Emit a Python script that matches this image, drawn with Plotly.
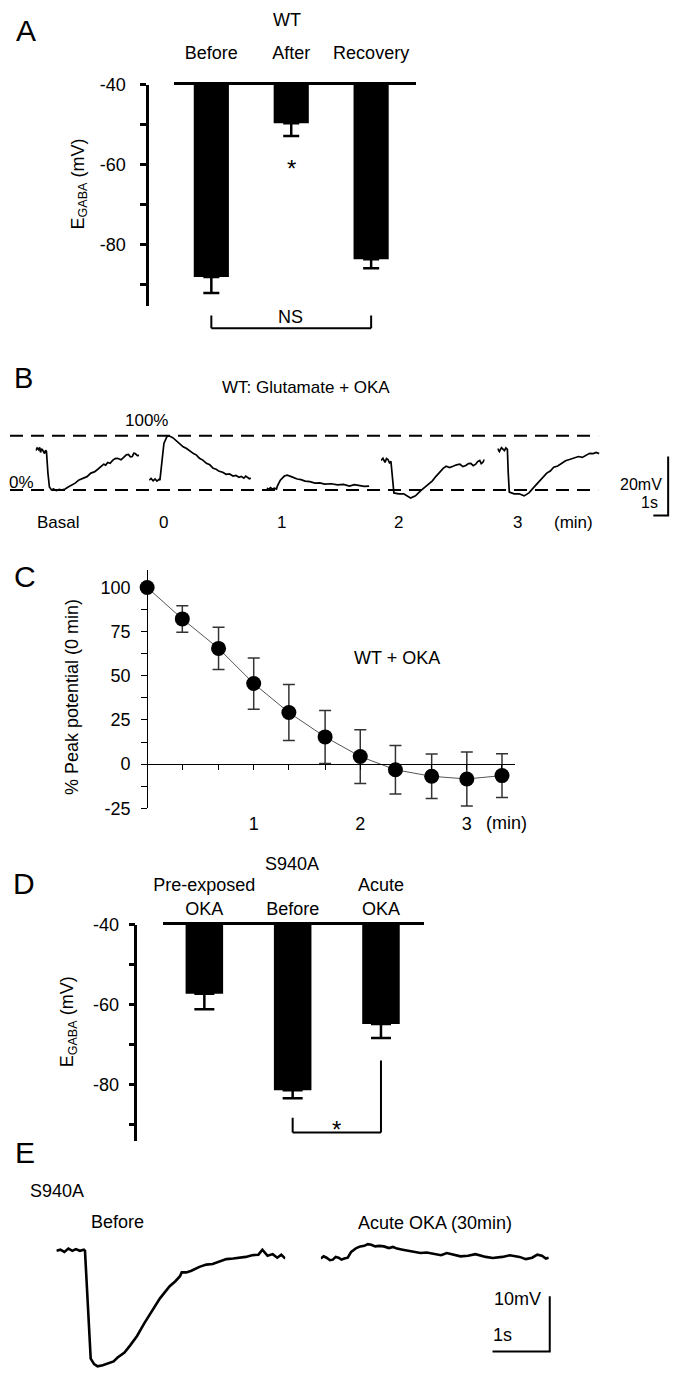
import plotly.graph_objects as go

# ---- data ----
A_categories = ["Before", "After", "Recovery"]
A_egaba = [-88.1, -49.6, -83.7]
A_sem = [4.0, 3.2, 2.2]
A_ref = -40
A_yticks = [-40, -60, -80]
A_yminor = [-50, -70, -90]

B_sweep_labels = ["Basal", "0", "1", "2", "3"]
B_basal_t = [0, 0.1, 0.2, 0.27, 0.33, 0.4, 0.47, 0.53, 0.6, 0.67, 0.73, 0.83, 0.93, 1.07, 1.2, 1.4,
             1.6, 1.73, 2.0, 2.17, 2.33, 2.5, 2.67, 2.93, 3.2, 3.47, 3.73, 3.97, 4.2, 4.4, 4.6, 4.73,
             4.87, 5.03, 5.2, 5.37, 5.53, 5.77, 6.0, 6.13, 6.27, 6.4, 6.53, 6.63, 6.73, 6.87, 7.0]
B_basal_mv = [13.3, 14.2, 13.6, 14.4, 12.7, 13.9, 13.5, 12.6, 12.3, 13.4, 13.0, 5.7, 1.0, 0.0, 0.3, -0.2,
              0.2, 0.0, 0.3, 0.9, 1.3, 1.9, 2.3, 3.4, 4.0, 4.5, 5.7, 6.1, 7.0, 7.9, 8.7, 8.4,
              9.3, 9.0, 10.0, 10.6, 10.7, 10.2, 11.3, 11.9, 12.0, 11.2, 11.3, 12.4, 12.3, 11.6, 11.7]
B_0_t = [0, 0.13, 0.27, 0.4, 0.53, 0.67, 0.73, 0.8, 0.87, 1.0, 1.2, 1.33, 1.6, 1.83, 2.07, 2.3, 2.53,
         2.77, 3.0, 3.2, 3.4, 3.63, 3.87, 4.1, 4.33, 4.53, 4.73, 4.97, 5.2, 5.43, 5.67, 5.87, 6.07,
         6.23, 6.4, 6.53, 6.67, 6.77, 6.87]
B_0_mv = [3.3, 3.9, 3.1, 3.7, 3.0, 3.6, 3.3, 6.0, 10.7, 15.7, 18.0, 18.3, 17.7, 16.6, 15.7, 14.6, 14.0,
          13.0, 12.3, 11.8, 10.7, 10.1, 9.0, 8.5, 7.3, 7.0, 6.3, 6.0, 5.3, 5.4, 4.7, 4.9, 4.3,
          4.6, 4.0, 4.7, 4.3, 3.8, 4.0]
B_1_t = [0, 0.13, 0.27, 0.4, 0.53, 0.67, 0.73, 0.93, 1.2, 1.4, 1.67, 2.07, 2.33, 2.6, 2.93, 3.27, 3.6,
         3.93, 4.37, 4.8, 5.2, 5.6, 5.93, 6.27, 6.6, 6.93]
B_1_mv = [0.7, 0.2, 0.8, 0.3, 0.6, 0.3, 1.3, 3.3, 4.7, 5.0, 4.5, 3.7, 3.5, 3.0, 2.8, 2.3, 2.4,
          2.0, 2.1, 1.7, 1.9, 1.3, 1.8, 1.5, 1.2, 1.3]
B_2_t = [0, 0.13, 0.27, 0.37, 0.47, 0.57, 0.67, 0.8, 0.87, 1.2, 1.53, 2.0, 2.33, 2.67, 2.93, 3.2, 3.47,
         3.73, 3.97, 4.2, 4.4, 4.63, 4.87, 5.1, 5.33, 5.53, 5.73, 5.9, 6.07, 6.23, 6.4, 6.53, 6.67,
         6.77, 6.87, 7.0]
B_2_mv = [10.0, 10.7, 9.3, 10.6, 10.3, 9.2, 9.7, 2.3, -1.0, -1.3, -1.3, -2.7, -2.0, -0.3, 0.8, 2.0, 3.1,
          4.7, 6.0, 7.3, 8.0, 7.6, 8.0, 8.5, 8.7, 7.9, 8.3, 8.9, 9.0, 8.2, 8.7, 9.6, 10.0,
          8.9, 9.3, 10.3]
B_3_t = [0, 0.13, 0.27, 0.37, 0.47, 0.57, 0.67, 0.73, 0.8, 1.13, 1.47, 1.8, 2.13, 2.53, 2.77, 3.0, 3.33,
         3.57, 3.8, 4.07, 4.33, 4.6, 4.87, 5.17, 5.47, 5.73, 6.0, 6.23, 6.47, 6.67, 6.87]
B_3_mv = [14.0, 13.0, 14.3, 13.6, 13.3, 14.2, 13.7, 5.7, -0.7, -1.3, -1.3, -2.0, -1.0, 1.3, 2.6, 4.0, 5.7,
          6.4, 7.7, 8.1, 9.0, 9.9, 10.3, 10.9, 11.3, 11.0, 11.7, 12.4, 12.3, 12.7, 12.3]
B_peak_mv = 18.3  # 100% level, 0% level is 0 mV

C_time_min = [0, 0.33, 0.67, 1.0, 1.33, 1.67, 2.0, 2.33, 2.67, 3.0, 3.33]
C_peak_pct = [100, 82.2, 65.5, 45.6, 29.2, 15.4, 4.3, -3.2, -6.9, -8.4, -6.5]
C_sem = [0, 7.5, 12, 14.5, 15.8, 15, 15.2, 13.7, 12.6, 15.3, 12.4]
C_xticks = [0.33, 0.67, 1.0, 1.33, 1.67, 2.0, 2.33, 2.67, 3.0, 3.33]
C_xticktext = ["", "", "1", "", "", "2", "", "", "3", ""]
C_yticks = [-25, 0, 25, 50, 75, 100]
C_yminor = [-12.5, 12.5, 37.5, 62.5, 87.5]

D_categories = ["Pre-exposed<br>OKA", "Before", "Acute<br>OKA"]
D_egaba = [-57.3, -81.5, -64.9]
D_sem = [3.9, 2.0, 3.5]

E_before_t = [0, 0.07, 0.14, 0.21, 0.28, 0.34, 0.41, 0.48, 0.5, 0.53, 0.57, 0.6, 0.66, 0.72, 0.81, 0.9,
              1.0, 1.07, 1.19, 1.29, 1.41, 1.53, 1.67, 1.81, 1.98, 2.08, 2.16, 2.19, 2.27, 2.36, 2.5,
              2.62, 2.73, 2.84, 2.97, 3.09, 3.2, 3.31, 3.42, 3.53, 3.6, 3.69, 3.78, 3.86, 3.93, 4.0]
E_before_mv = [0, 0.2, -0.2, 0.4, 0, 0.3, 0, 0.2, 0, -5.5, -14.5, -19.5, -20.5, -20.9, -20.7, -20.4,
               -20.0, -19.3, -18.4, -17.1, -15.4, -13.2, -10.9, -8.6, -6.4, -5.5, -4.6, -3.9, -3.9, -3.6,
               -2.9, -2.5, -2.4, -2.0, -1.5, -1.4, -1.3, -1.1, -0.8, -0.7, 0.2, -0.9, -0.6, -1.25, -0.7,
               -1.4]
E_acute_t = [0, 0.05, 0.1, 0.16, 0.21, 0.26, 0.31, 0.36, 0.41, 0.47, 0.53, 0.62, 0.69, 0.76, 0.82, 0.88,
             0.95, 1.02, 1.1, 1.19, 1.26, 1.33, 1.43, 1.53, 1.63, 1.74, 1.85, 1.97, 2.1, 2.2, 2.31, 2.44,
             2.57, 2.7, 2.88, 3.0, 3.17, 3.3, 3.47, 3.58, 3.69, 3.78, 3.86, 3.93, 3.98]
E_acute_mv = [-1.4, -1.0, -1.25, -1.7, -1.6, -1.1, -1.25, -1.6, -1.4, -1.25, -0.2, 0.5, 0.8, 0.9, 1.2, 1.1,
              0.8, 0.9, 0.8, 0.5, 0.7, 0.4, 0.2, 0, -0.1, -0.4, -0.3, -0.5, -0.8, -0.4, -0.7, -1.0,
              -0.9, -0.6, -1.1, -1.3, -1.1, -0.8, -1.1, -1.5, -1.25, -0.7, -0.9, -1.4, -1.25]

W, H = 680, 1383
FONT = "Liberation Sans, Arial, sans-serif"


def px(x):
    return x / W


def py(y):
    return 1 - y / H


def text(s, x, y, size=18, **kw):
    d = dict(text=s, x=px(x), y=py(y), xref="paper", yref="paper", showarrow=False,
             xanchor="center", yanchor="middle", font=dict(size=size, color="black"))
    d.update(kw)
    return d


def seg(x0, y0, x1, y1, xref="paper", yref="paper", width=2, dash="solid"):
    return dict(type="line", x0=x0, y0=y0, x1=x1, y1=y1, xref=xref, yref=yref,
                line=dict(color="black", width=width, dash=dash))


def scalebar(x_left, x_right, y_low, y_high, yref):
    # L-shaped scale bar: horizontal at y_low, vertical at x_right
    path = f"M{px(x_left)},{y_low} L{px(x_right)},{y_low} L{px(x_right)},{y_high}"
    return dict(type="path", path=path, xref="paper", yref=yref,
                line=dict(color="black", width=2))


fig = go.Figure()
annotations = []
shapes = []

# ---- A: WT E_GABA bars ----
fig.add_trace(go.Bar(
    x=A_categories, y=[v - A_ref for v in A_egaba], base=A_ref, width=0.44,
    marker=dict(color="black", line=dict(width=0)),
    error_y=dict(type="data", symmetric=False, array=[0] * 3, arrayminus=A_sem,
                 color="black", thickness=2.5, width=8),
    xaxis="x", yaxis="y"))

# ---- B: sweeps ----
B_sweeps = [(B_basal_t, B_basal_mv), (B_0_t, B_0_mv), (B_1_t, B_1_mv), (B_2_t, B_2_mv), (B_3_t, B_3_mv)]
for i, (t, mv) in enumerate(B_sweeps):
    fig.add_trace(go.Scatter(x=t, y=mv, mode="lines", line=dict(color="black", width=1.7),
                             xaxis=f"x{i + 2}", yaxis=f"y{i + 2}"))

# ---- C: time course ----
fig.add_trace(go.Scatter(
    x=C_time_min, y=C_peak_pct, mode="lines+markers", cliponaxis=False,
    line=dict(color="#555555", width=1),
    marker=dict(color="black", size=15),
    error_y=dict(type="data", array=C_sem, color="#333333", thickness=1.5, width=6),
    xaxis="x7", yaxis="y7"))

# ---- D: S940A bars ----
fig.add_trace(go.Bar(
    x=D_categories, y=[v - A_ref for v in D_egaba], base=A_ref, width=0.425,
    marker=dict(color="black", line=dict(width=0)),
    error_y=dict(type="data", symmetric=False, array=[0] * 3, arrayminus=D_sem,
                 color="black", thickness=2.5, width=10),
    xaxis="x8", yaxis="y8"))

# ---- E: traces ----
fig.add_trace(go.Scatter(x=E_before_t, y=E_before_mv, mode="lines",
                         line=dict(color="black", width=2.6), xaxis="x9", yaxis="y9"))
fig.add_trace(go.Scatter(x=E_acute_t, y=E_acute_mv, mode="lines",
                         line=dict(color="black", width=2.6), xaxis="x10", yaxis="y10"))

layout = dict(
    width=W, height=H, margin=dict(l=0, r=0, t=0, b=0),
    paper_bgcolor="white", plot_bgcolor="rgba(0,0,0,0)", showlegend=False,
    font=dict(family=FONT, size=18, color="black"),
)

bar_y_common = dict(anchor="free", showline=True, linecolor="black", linewidth=2.5,
                    ticks="outside", ticklen=6, tickwidth=2.5, tickcolor="black",
                    tickmode="array", tickvals=A_yticks, ticktext=[str(v) for v in A_yticks],
                    minor=dict(tickmode="array", tickvals=A_yminor, ticks="outside",
                               ticklen=6, tickwidth=2.5, tickcolor="black"),
                    showgrid=False, zeroline=False, tickfont=dict(size=18))
bar_x_common = dict(side="top", showline=True, linecolor="black", linewidth=2.5, ticks="",
                    showgrid=False, zeroline=False, tickfont=dict(size=18))

layout["xaxis"] = dict(domain=[px(167), px(412)], range=[-0.47, 2.556], anchor="y",
                       ticklabelstandoff=16, **bar_x_common)
layout["yaxis"] = dict(domain=[py(300), py(76)], range=[-95.3, -39.98], position=px(140),
                       ticklabelstandoff=11, **bar_y_common)

B_lefts = [27, 142, 261, 377, 495]
for i, left in enumerate(B_lefts):
    n = i + 2
    layout[f"xaxis{n}"] = dict(domain=[px(left), px(left + 105)], range=[0, 7], visible=False,
                               anchor=f"y{n}")
    layout[f"yaxis{n}"] = dict(domain=[py(520), py(420)], range=[-11, 22.33], visible=False,
                               anchor=f"x{n}")

layout["xaxis7"] = dict(domain=[px(140), px(513)], range=[0, 3.454], anchor="free", position=py(765),
                        showline=True, linecolor="black", linewidth=1.2, ticks="outside", ticklen=5,
                        tickwidth=1.2, tickcolor="black", tickmode="array", tickvals=C_xticks,
                        ticktext=C_xticktext, ticklabelstandoff=38, showgrid=False, zeroline=False,
                        tickfont=dict(size=18))
layout["yaxis7"] = dict(domain=[py(810), py(568)], range=[-25, 110], anchor="free", position=px(140),
                        showline=True, linecolor="black", linewidth=1.2, ticks="outside", ticklen=6,
                        tickwidth=1.2, tickcolor="black", tickmode="array", tickvals=C_yticks,
                        ticktext=[str(v) for v in C_yticks], ticklabelstandoff=7,
                        minor=dict(tickmode="array", tickvals=C_yminor, ticks="outside", ticklen=6,
                                   tickwidth=1.2, tickcolor="black"),
                        showgrid=False, zeroline=False, tickfont=dict(size=18))

layout["xaxis8"] = dict(domain=[px(156), px(421)], range=[-0.469, 2.492], anchor="y8",
                        ticklabelstandoff=0, **bar_x_common)
layout["yaxis8"] = dict(domain=[py(1148), py(928)], range=[-94.3, -39.98], position=px(128),
                        ticklabelstandoff=6, **bar_y_common)

layout["xaxis9"] = dict(domain=[px(48), px(280)], range=[0, 4.0], visible=False, anchor="y9")
layout["yaxis9"] = dict(domain=[0, py(1245)], range=[-22.1, 2.5], visible=False, anchor="x9")
layout["xaxis10"] = dict(domain=[px(316), px(547)], range=[0, 3.98], visible=False, anchor="y10")
layout["yaxis10"] = dict(domain=[0, py(1245)], range=[-22.1, 2.5], visible=False, anchor="x10")

# ---- panel A text / bracket ----
annotations += [
    text("A", 17, 21, size=30),
    text("WT", 282, 10),
    text("E<sub>GABA</sub> (mV)", 71, 177, textangle=-90),
    dict(text="*", x=1, y=py(161), xref="x", yref="paper", showarrow=False,
         xanchor="center", yanchor="middle", font=dict(size=24, color="black")),
    text("NS", 285, 311),
]
shapes += [
    seg(0, py(310), 0, py(323), xref="x"),
    seg(2, py(310), 2, py(323), xref="x"),
    seg(0, py(323), 2, py(323), xref="x"),
]

# ---- panel B text / guides ----
annotations += [
    text("B", 15, 373, size=29),
    text("WT: Glutamate + OKA", 301, 383, size=17),
    text("100%", 139, 417, size=17),
    text("0%", 13, 479, size=17),
    text("20mV", 640, 481, size=16),
    text("1s", 649, 500, size=16),
    text("(min)", 572, 520, size=17),
]
B_label_x = [50, 157, 276, 395, 515]
for lab, xx in zip(B_sweep_labels, B_label_x):
    annotations.append(text(lab, xx, 520, size=17))
shapes += [
    seg(px(1), 0, px(597), 0, yref="y2", width=2, dash="13px,8px"),
    seg(px(1), B_peak_mv, px(597), B_peak_mv, yref="y2", width=2, dash="13px,8px"),
    scalebar(653, 668, -8.67, 11.33, "y2"),
]

# ---- panel C text ----
annotations += [
    text("C", 16, 575, size=30),
    text("% Peak potential (0 min)", 64, 697, textangle=-90),
    text("WT + OKA", 393, 658),
    text("(min)", 504, 825),
]

# ---- panel D text / bracket ----
annotations += [
    text("D", 15, 886, size=30),
    text("S940A", 287, 867),
    text("E<sub>GABA</sub> (mV)", 60, 1027, textangle=-90),
    dict(text="*", x=1.5, y=py(1136), xref="x8", yref="paper", showarrow=False,
         xanchor="center", yanchor="middle", font=dict(size=24, color="black")),
]
shapes += [
    seg(1, py(1124), 1, py(1139), xref="x8"),
    seg(2, py(1066), 2, py(1139), xref="x8"),
    seg(1, py(1139), 2, py(1139), xref="x8"),
]

# ---- panel E text / scale bar ----
annotations += [
    text("E", 16, 1159, size=30),
    text("S940A", 49, 1198),
    text("Before", 110, 1230),
    text("Acute OKA (30min)", 432, 1231),
    text("10mV", 515, 1308),
    text("1s", 500, 1344),
]
shapes += [scalebar(490, 548, -18.2, -8.2, "y10")]

layout["annotations"] = annotations
layout["shapes"] = shapes
fig.update_layout(**layout)

# page body has a default margin; drop it so the 680x1383 figure fills the window exactly
fig.write_html("out.html", config={"displayModeBar": False},
               post_script="document.body.style.margin='0';document.body.style.overflow='hidden';")
